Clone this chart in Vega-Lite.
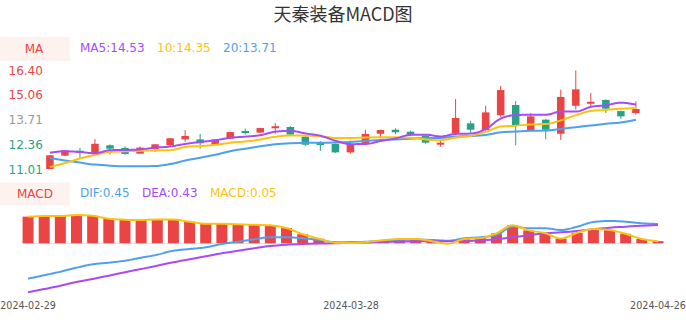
{
  "$schema": "https://vega.github.io/schema/vega-lite/v6.json",
  "width": 686,
  "height": 320,
  "autosize": "none",
  "padding": 0,
  "background": "white",
  "config": {"view": {"stroke": null}, "font": "DejaVu Sans"},
  "title": {"text": "天秦装备MACD图", "font": "Noto Sans CJK SC", "fontSize": 18, "fontWeight": "normal", "color": "#333333", "anchor": "middle", "offset": -25},
  "data": {"values": [
    {"date": "2024-02-29", "open": 11.01, "high": 11.78, "low": 11.01, "close": 11.76, "MA5": 11.90, "MA10": 11.12, "MA20": 11.61, "DIF": -0.823, "DEA": -1.140, "MACD": 0.62},
    {"date": "2024-03-01", "open": 11.74, "high": 12.05, "low": 11.72, "close": 12.03, "MA5": 11.98, "MA10": 11.34, "MA20": 11.48, "DIF": -0.744, "DEA": -1.063, "MACD": 0.635},
    {"date": "2024-03-04", "open": 12.01, "high": 12.16, "low": 11.57, "close": 11.90, "MA5": 11.94, "MA10": 11.58, "MA20": 11.36, "DIF": -0.660, "DEA": -0.986, "MACD": 0.635},
    {"date": "2024-03-05", "open": 11.85, "high": 12.65, "low": 11.83, "close": 12.39, "MA5": 11.87, "MA10": 11.79, "MA20": 11.25, "DIF": -0.567, "DEA": -0.900, "MACD": 0.66},
    {"date": "2024-03-06", "open": 12.31, "high": 12.36, "low": 11.81, "close": 12.12, "MA5": 12.04, "MA10": 11.94, "MA20": 11.19, "DIF": -0.488, "DEA": -0.830, "MACD": 0.64},
    {"date": "2024-03-07", "open": 12.16, "high": 12.25, "low": 11.79, "close": 11.83, "MA5": 12.05, "MA10": 11.98, "MA20": 11.16, "DIF": -0.451, "DEA": -0.753, "MACD": 0.57},
    {"date": "2024-03-08", "open": 11.85, "high": 12.25, "low": 11.84, "close": 12.18, "MA5": 12.08, "MA10": 12.01, "MA20": 11.16, "DIF": -0.405, "DEA": -0.674, "MACD": 0.55},
    {"date": "2024-03-11", "open": 12.10, "high": 12.38, "low": 11.94, "close": 12.36, "MA5": 12.18, "MA10": 12.03, "MA20": 11.17, "DIF": -0.335, "DEA": -0.598, "MACD": 0.54},
    {"date": "2024-03-12", "open": 12.31, "high": 12.72, "low": 12.29, "close": 12.69, "MA5": 12.24, "MA10": 12.04, "MA20": 11.28, "DIF": -0.265, "DEA": -0.521, "MACD": 0.555},
    {"date": "2024-03-13", "open": 12.63, "high": 13.14, "low": 12.49, "close": 12.82, "MA5": 12.38, "MA10": 12.21, "MA20": 11.47, "DIF": -0.172, "DEA": -0.442, "MACD": 0.555},
    {"date": "2024-03-14", "open": 12.63, "high": 12.93, "low": 12.12, "close": 12.42, "MA5": 12.49, "MA10": 12.27, "MA20": 11.62, "DIF": -0.133, "DEA": -0.372, "MACD": 0.50},
    {"date": "2024-03-15", "open": 12.34, "high": 12.65, "low": 12.32, "close": 12.63, "MA5": 12.58, "MA10": 12.33, "MA20": 11.79, "DIF": -0.093, "DEA": -0.302, "MACD": 0.455},
    {"date": "2024-03-18", "open": 12.67, "high": 13.05, "low": 12.65, "close": 13.03, "MA5": 12.72, "MA10": 12.45, "MA20": 11.98, "DIF": -0.016, "DEA": -0.233, "MACD": 0.455},
    {"date": "2024-03-19", "open": 13.09, "high": 13.22, "low": 12.89, "close": 12.98, "MA5": 12.78, "MA10": 12.51, "MA20": 12.12, "DIF": 0.037, "DEA": -0.172, "MACD": 0.44},
    {"date": "2024-03-20", "open": 13.00, "high": 13.26, "low": 12.99, "close": 13.25, "MA5": 12.86, "MA10": 12.62, "MA20": 12.25, "DIF": 0.093, "DEA": -0.116, "MACD": 0.43},
    {"date": "2024-03-21", "open": 13.24, "high": 13.53, "low": 12.94, "close": 13.35, "MA5": 13.05, "MA10": 12.77, "MA20": 12.36, "DIF": 0.140, "DEA": -0.063, "MACD": 0.42},
    {"date": "2024-03-22", "open": 13.31, "high": 13.36, "low": 12.88, "close": 12.89, "MA5": 13.10, "MA10": 12.84, "MA20": 12.42, "DIF": 0.140, "DEA": -0.033, "MACD": 0.355},
    {"date": "2024-03-25", "open": 12.78, "high": 12.80, "low": 12.27, "close": 12.34, "MA5": 12.96, "MA10": 12.84, "MA20": 12.45, "DIF": 0.116, "DEA": -0.016, "MACD": 0.21},
    {"date": "2024-03-26", "open": 12.43, "high": 12.53, "low": 12.00, "close": 12.32, "MA5": 12.83, "MA10": 12.80, "MA20": 12.45, "DIF": 0.080, "DEA": -0.005, "MACD": 0.105},
    {"date": "2024-03-27", "open": 12.38, "high": 12.40, "low": 11.89, "close": 11.92, "MA5": 12.56, "MA10": 12.71, "MA20": 12.46, "DIF": 0.028, "DEA": 0.000, "MACD": 0.015},
    {"date": "2024-03-28", "open": 11.92, "high": 12.56, "low": 11.85, "close": 12.38, "MA5": 12.37, "MA10": 12.71, "MA20": 12.49, "DIF": 0.023, "DEA": 0.016, "MACD": 0.005},
    {"date": "2024-03-29", "open": 12.43, "high": 13.16, "low": 12.32, "close": 12.93, "MA5": 12.38, "MA10": 12.74, "MA20": 12.54, "DIF": 0.037, "DEA": 0.023, "MACD": 0.03},
    {"date": "2024-04-01", "open": 12.94, "high": 13.16, "low": 12.69, "close": 13.14, "MA5": 12.54, "MA10": 12.75, "MA20": 12.60, "DIF": 0.060, "DEA": 0.030, "MACD": 0.07},
    {"date": "2024-04-02", "open": 13.16, "high": 13.24, "low": 12.91, "close": 13.02, "MA5": 12.68, "MA10": 12.75, "MA20": 12.63, "DIF": 0.077, "DEA": 0.040, "MACD": 0.10},
    {"date": "2024-04-03", "open": 13.05, "high": 13.11, "low": 12.82, "close": 12.91, "MA5": 12.88, "MA10": 12.72, "MA20": 12.67, "DIF": 0.084, "DEA": 0.048, "MACD": 0.10},
    {"date": "2024-04-08", "open": 12.83, "high": 12.85, "low": 12.39, "close": 12.45, "MA5": 12.89, "MA10": 12.63, "MA20": 12.70, "DIF": 0.077, "DEA": 0.050, "MACD": 0.05},
    {"date": "2024-04-09", "open": 12.34, "high": 12.56, "low": 12.23, "close": 12.45, "MA5": 12.79, "MA10": 12.59, "MA20": 12.71, "DIF": 0.060, "DEA": 0.050, "MACD": -0.01},
    {"date": "2024-04-10", "open": 12.96, "high": 14.84, "low": 12.94, "close": 13.80, "MA5": 12.93, "MA10": 12.73, "MA20": 12.79, "DIF": 0.116, "DEA": 0.053, "MACD": 0.10},
    {"date": "2024-04-11", "open": 13.51, "high": 13.65, "low": 12.96, "close": 13.16, "MA5": 12.95, "MA10": 12.82, "MA20": 12.81, "DIF": 0.140, "DEA": 0.070, "MACD": 0.12},
    {"date": "2024-04-12", "open": 13.14, "high": 14.47, "low": 13.12, "close": 14.11, "MA5": 13.19, "MA10": 13.04, "MA20": 12.87, "DIF": 0.193, "DEA": 0.093, "MACD": 0.23},
    {"date": "2024-04-15", "open": 13.95, "high": 15.55, "low": 13.86, "close": 15.33, "MA5": 13.77, "MA10": 13.33, "MA20": 13.02, "DIF": 0.386, "DEA": 0.140, "MACD": 0.42},
    {"date": "2024-04-16", "open": 14.51, "high": 14.73, "low": 12.31, "close": 13.40, "MA5": 13.96, "MA10": 13.38, "MA20": 13.06, "DIF": 0.349, "DEA": 0.186, "MACD": 0.30},
    {"date": "2024-04-17", "open": 13.14, "high": 14.06, "low": 13.12, "close": 13.89, "MA5": 13.98, "MA10": 13.45, "MA20": 13.10, "DIF": 0.349, "DEA": 0.233, "MACD": 0.24},
    {"date": "2024-04-18", "open": 13.71, "high": 13.74, "low": 12.63, "close": 13.16, "MA5": 13.98, "MA10": 13.47, "MA20": 13.11, "DIF": 0.309, "DEA": 0.256, "MACD": 0.11},
    {"date": "2024-04-19", "open": 12.94, "high": 15.35, "low": 12.60, "close": 14.95, "MA5": 14.15, "MA10": 13.67, "MA20": 13.20, "DIF": 0.386, "DEA": 0.286, "MACD": 0.245},
    {"date": "2024-04-22", "open": 14.47, "high": 16.40, "low": 14.26, "close": 15.37, "MA5": 14.15, "MA10": 13.96, "MA20": 13.30, "DIF": 0.495, "DEA": 0.326, "MACD": 0.33},
    {"date": "2024-04-23", "open": 14.58, "high": 15.17, "low": 14.44, "close": 14.69, "MA5": 14.41, "MA10": 14.19, "MA20": 13.39, "DIF": 0.519, "DEA": 0.363, "MACD": 0.31},
    {"date": "2024-04-24", "open": 14.79, "high": 14.82, "low": 14.07, "close": 14.31, "MA5": 14.50, "MA10": 14.24, "MA20": 13.48, "DIF": 0.502, "DEA": 0.386, "MACD": 0.22},
    {"date": "2024-04-25", "open": 14.18, "high": 14.20, "low": 13.76, "close": 13.89, "MA5": 14.64, "MA10": 14.31, "MA20": 13.56, "DIF": 0.465, "DEA": 0.409, "MACD": 0.10},
    {"date": "2024-04-26", "open": 14.07, "high": 14.71, "low": 13.98, "close": 14.29, "MA5": 14.53, "MA10": 14.35, "MA20": 13.71, "DIF": 0.449, "DEA": 0.426, "MACD": 0.05}
  ]},
  "layer": [
    {
      "layer": [
        {
          "mark": {"type": "rule", "strokeWidth": 1},
          "encoding": {
            "x": {"field": "date", "type": "ordinal", "scale": {"type": "band", "paddingInner": 0.5, "paddingOuter": 0, "align": 0.5, "range": [46.15, 639.65]}, "axis": null},
            "y": {"field": "low", "type": "quantitative", "scale": {"domain": [2.747, 20.258], "nice": false, "zero": false},
              "axis": {"orient": "left", "values": [16.40, 15.06, 13.71, 12.36, 11.01], "format": ".2f", "labelAlign": "left", "labelBaseline": "middle", "labelPadding": -8, "ticks": false, "tickSize": 0, "domain": false, "grid": false, "title": null, "labelFontSize": 12, "labelFont": "DejaVu Sans", "labelOverlap": false, "labelFlush": false,
                "labelColor": {"expr": "datum.value > 13.72 ? '#eb4444' : datum.value < 13.70 ? '#26a385' : '#999999'"}}},
            "y2": {"field": "high"},
            "color": {"condition": {"test": "datum.close >= datum.open", "value": "#eb4444"}, "value": "#26a385"}
          }
        },
        {
          "mark": {"type": "bar"},
          "encoding": {
            "x": {"field": "date", "type": "ordinal"},
            "y": {"field": "open", "type": "quantitative"},
            "y2": {"field": "close"},
            "color": {"condition": {"test": "datum.close >= datum.open", "value": "#eb4444"}, "value": "#26a385"}
          }
        },
        {
          "mark": {"type": "line", "strokeWidth": 2, "interpolate": "monotone"},
          "encoding": {
            "x": {"field": "date", "type": "ordinal"},
            "y": {"field": "MA20", "type": "quantitative"},
            "color": {"datum": "MA20", "type": "nominal"}
          }
        },
        {
          "mark": {"type": "line", "strokeWidth": 2, "interpolate": "monotone"},
          "encoding": {
            "x": {"field": "date", "type": "ordinal"},
            "y": {"field": "MA10", "type": "quantitative"},
            "color": {"datum": "MA10", "type": "nominal"}
          }
        },
        {
          "mark": {"type": "line", "strokeWidth": 2, "interpolate": "monotone"},
          "encoding": {
            "x": {"field": "date", "type": "ordinal"},
            "y": {"field": "MA5", "type": "quantitative"},
            "color": {"datum": "MA5", "type": "nominal",
              "scale": {"domain": ["MA5", "MA10", "MA20"], "range": ["#a64bfc", "#fec20d", "#4e9ff0"]},
              "legend": {"orient": "none", "legendX": 68, "legendY": 42, "direction": "horizontal", "title": null, "padding": 0,
                "symbolSize": 0, "symbolOpacity": 0, "symbolStrokeWidth": 0, "labelOffset": 0, "columnPadding": -4,
                "labelFontSize": 12, "labelFont": "DejaVu Sans",
                "labelExpr": "datum.label == 'MA5' ? 'MA5:14.53' : datum.label == 'MA10' ? '10:14.35' : '20:13.71'",
                "labelColor": {"expr": "datum.value == 'MA5' ? '#a64bfc' : datum.value == 'MA10' ? '#fec20d' : '#4e9ff0'"}}},
            "strokeDash": {"datum": "MA", "type": "nominal", "scale": {"range": [[1, 0]]},
              "legend": {"orient": "none", "legendX": 29, "legendY": 43, "title": null, "padding": 0,
                "symbolType": "M-35,-12H35V12H-35Z", "symbolSize": 4, "symbolFillColor": "#fdf2ee", "symbolStrokeColor": "#fdf2ee", "symbolStrokeWidth": 0, "symbolOpacity": 1,
                "labelOffset": -16.3, "labelFontSize": 12, "labelFont": "DejaVu Sans", "labelColor": "#eb4444"}}
          }
        }
      ]
    },
    {
      "layer": [
        {
          "mark": {"type": "bar"},
          "encoding": {
            "x": {"field": "date", "type": "ordinal", "scale": {"type": "band", "paddingInner": 0.319, "paddingOuter": 0, "align": 0.5, "range": [22.55, 663.48]},
              "axis": {"orient": "bottom", "values": ["2024-02-29", "2024-03-28", "2024-04-26"], "offset": -20, "labelPadding": 0, "ticks": false, "tickSize": 0, "domain": false, "grid": false, "labelAngle": 0, "labelFontSize": 9.6, "labelFont": "DejaVu Sans", "labelColor": "#555555", "title": null, "labelOverlap": false}},
            "y": {"field": "MACD", "type": "quantitative", "scale": {"domain": [-1.784, 5.658], "nice": false},
              "axis": {"orient": "right", "values": [0], "grid": true, "gridColor": "#e4e4e4", "labels": false, "ticks": false, "domain": false, "title": null}},
            "color": {"condition": {"test": "datum.MACD >= 0", "value": "#eb4444"}, "value": "#26a385"}
          }
        },
        {
          "mark": {"type": "line", "strokeWidth": 2, "interpolate": "monotone"},
          "encoding": {
            "x": {"field": "date", "type": "ordinal"},
            "y": {"field": "DIF", "type": "quantitative"},
            "color": {"datum": "DIF", "type": "nominal",
              "scale": {"domain": ["DIF", "DEA", "MACD"], "range": ["#4e9ff0", "#a64bfc", "#fec20d"]},
              "legend": {"orient": "none", "legendX": 68, "legendY": 187, "direction": "horizontal", "title": null, "padding": 0,
                "symbolSize": 0, "symbolOpacity": 0, "symbolStrokeWidth": 0, "labelOffset": 0, "columnPadding": -5,
                "labelFontSize": 12, "labelFont": "DejaVu Sans",
                "labelExpr": "datum.label == 'DIF' ? 'DIF:0.45' : datum.label == 'DEA' ? 'DEA:0.43' : 'MACD:0.05'",
                "labelColor": {"expr": "datum.value == 'DIF' ? '#4e9ff0' : datum.value == 'DEA' ? '#a64bfc' : '#fec20d'"}}},
            "strokeDash": {"datum": "MACD", "type": "nominal", "scale": {"range": [[1, 0]]},
              "legend": {"orient": "none", "legendX": 29, "legendY": 188, "title": null, "padding": 0,
                "symbolType": "M-35,-11.5H35V11.5H-35Z", "symbolSize": 4, "symbolFillColor": "#fdf2ee", "symbolStrokeColor": "#fdf2ee", "symbolStrokeWidth": 0, "symbolOpacity": 1,
                "labelOffset": -24.1, "labelFontSize": 12, "labelFont": "DejaVu Sans", "labelColor": "#eb4444"}}
          }
        },
        {
          "mark": {"type": "line", "strokeWidth": 2, "interpolate": "monotone"},
          "encoding": {
            "x": {"field": "date", "type": "ordinal"},
            "y": {"field": "DEA", "type": "quantitative"},
            "color": {"datum": "DEA", "type": "nominal"}
          }
        },
        {
          "mark": {"type": "line", "strokeWidth": 2, "interpolate": "monotone"},
          "encoding": {
            "x": {"field": "date", "type": "ordinal"},
            "y": {"field": "MACD", "type": "quantitative"},
            "color": {"datum": "MACD", "type": "nominal"}
          }
        }
      ]
    }
  ],
  "resolve": {
    "scale": {"x": "independent", "y": "independent", "color": "independent", "strokeDash": "independent"},
    "axis": {"x": "independent", "y": "independent"},
    "legend": {"color": "independent", "strokeDash": "independent"}
  }
}
